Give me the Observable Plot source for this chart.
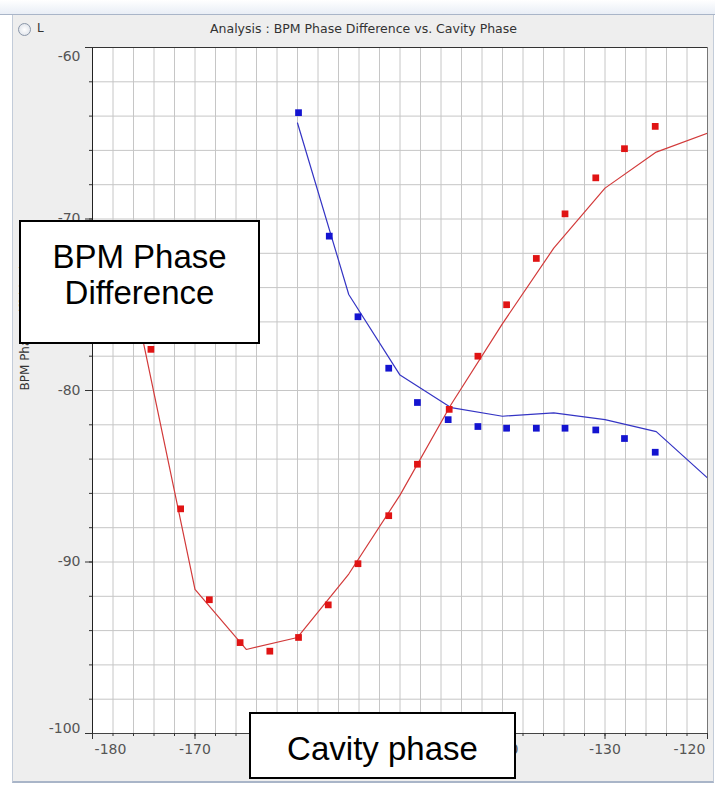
<!DOCTYPE html>
<html>
<head>
<meta charset="utf-8">
<script src="https://cdn.jsdelivr.net/npm/d3@7"></script>
<script src="https://cdn.jsdelivr.net/npm/@observablehq/plot@0.6"></script>
<style>
  html, body { margin: 0; padding: 0; }
  body { width: 715px; height: 786px; position: relative; overflow: hidden; background: #ffffff; font-family: "DejaVu Sans", sans-serif; }
  #topbar { position: absolute; left: 0; top: 0; width: 715px; height: 14px; background: linear-gradient(#ffffff, #e9eef6); border-bottom: 1px solid #a9b5c8; }
  #panel { position: absolute; left: 12px; top: 15px; width: 700px; height: 766px; background: #eeeeee; border-left: 1px solid #c3ccd9; border-right: 1px solid #c3ccd9; border-bottom: 2px solid #a9b5c8; }
  #chart { position: absolute; left: 0; top: 0; }
  #title { position: absolute; left: 0; width: 727px; top: 21px; text-align: center; font-size: 12.5px; color: #333; }
  #radio { position: absolute; left: 18px; top: 23px; width: 11px; height: 11px; border-radius: 50%; border: 1px solid #8a96a8; background: radial-gradient(#ffffff, #d8dde6); }
  #rl { position: absolute; left: 37px; top: 21px; font-size: 12px; color: #333; }
  .box { position: absolute; background: #ffffff; border: 2px solid #000; box-sizing: border-box; font-family: "Liberation Sans", Arial, sans-serif; color: #000; text-align: center; }
  #box1 { left: 19px; top: 220px; width: 241px; height: 124px; font-size: 33px; line-height: 36px; padding-top: 17px; }
  #box2 { left: 249px; top: 712px; width: 267px; height: 67px; font-size: 33px; line-height: 33px; padding-top: 18px; }
</style>
</head>
<body>
<div id="topbar"></div>
<div id="panel"></div>
<div id="chart"></div>
<div id="radio"></div>
<div id="rl">L</div>
<div id="title">Analysis : BPM Phase Difference vs. Cavity Phase</div>
<div class="box" id="box1">BPM Phase<br>Difference</div>
<div class="box" id="box2">Cavity phase</div>
<script>
// Measured data (red series)
const redX = [-174.3, -171.4, -168.6, -165.6, -162.7, -159.9, -157.0, -154.1, -151.1, -148.3, -145.2, -142.4, -139.6, -136.7, -133.9, -130.9, -128.1, -125.1];
const redY = [-77.6, -86.9, -92.2, -94.7, -95.2, -94.4, -92.5, -90.1, -87.3, -84.3, -81.1, -78.0, -75.0, -72.3, -69.7, -67.6, -65.9, -64.6];
// Measured data (blue series)
const blueX = [-159.9, -156.9, -154.1, -151.1, -148.3, -145.3, -142.4, -139.6, -136.7, -133.9, -130.9, -128.1, -125.1];
const blueY = [-63.8, -71.0, -75.7, -78.7, -80.7, -81.7, -82.1, -82.2, -82.2, -82.2, -82.3, -82.8, -83.6];
// Fitted curves
const redFitX = [-175, -170, -165, -160, -155, -150, -145, -140, -135, -130, -125, -120];
const redFitY = [-77.3, -91.6, -95.1, -94.4, -90.7, -86.1, -80.8, -76.1, -71.7, -68.2, -66.1, -65.0];
const blueFitX = [-160, -155, -150, -145, -140, -135, -130, -125, -120];
const blueFitY = [-64.4, -74.4, -79.1, -81.0, -81.5, -81.3, -81.7, -82.4, -85.1];
// Axis ticks
const xTicks = [-180, -170, -160, -150, -140, -130, -120];
const yTicks = [-60, -70, -80, -90, -100];
const xMinor = d3.range(-180, -119, 2);
const yMinor = d3.range(-100, -59, 2);
const xLabel = "Cavity Phase (deg)";
const yLabel = "BPM Phase Diff (deg)";

const red = redX.map((x, i) => ({x, y: redY[i]}));
const blue = blueX.map((x, i) => ({x, y: blueY[i]}));
const redFit = redFitX.map((x, i) => ({x, y: redFitY[i]}));
const blueFit = blueFitX.map((x, i) => ({x, y: blueFitY[i]}));

const fmt = d => String(d);
const tickFill = "#555";

const chart = Plot.plot({
  width: 715,
  height: 786,
  marginLeft: 92,
  marginRight: 8,
  marginTop: 47,
  marginBottom: 53,
  x: {domain: [-180, -120], axis: null},
  y: {domain: [-100, -60], axis: null},
  style: {background: "transparent", fontFamily: "DejaVu Sans, sans-serif", fontSize: "14px", color: "#333", overflow: "visible"},
  marks: [
    Plot.frame({fill: "white", stroke: null}),
    Plot.gridX(xMinor, {stroke: "#c6c6c6", strokeOpacity: 1}),
    Plot.gridY(yMinor, {stroke: "#c6c6c6", strokeOpacity: 1}),
    Plot.line(redFit, {x: "x", y: "y", stroke: "#d23a3a", strokeWidth: 1.2, clip: true}),
    Plot.line(blueFit, {x: "x", y: "y", stroke: "#3434c4", strokeWidth: 1.2, clip: true}),
    Plot.dot(red, {x: "x", y: "y", symbol: "square", r: 3.8, fill: "#e01414", stroke: null}),
    Plot.dot(blue, {x: "x", y: "y", symbol: "square", r: 3.8, fill: "#1414d0", stroke: null}),
    Plot.frame({stroke: "#777"}),
    Plot.ruleX([-180], {stroke: "#222"}),
    Plot.ruleY([-100], {stroke: "#444"}),
    Plot.ruleY([-60], {stroke: "#333"}),
    // ticks
    Plot.axisY(yMinor, {tickSize: 3, tickFormat: () => "", label: null, stroke: "#333"}),
    Plot.axisY(yTicks, {tickSize: 7, tickFormat: () => "", label: null, stroke: "#333"}),
    Plot.axisX(xMinor, {tickSize: 3, tickFormat: () => "", label: null, stroke: "#333"}),
    Plot.axisX(xTicks, {tickSize: 6, tickFormat: () => "", label: null, stroke: "#333"}),
    // y tick labels
    Plot.text(yTicks, {filter: d => d !== -60 && d !== -100, y: d => d, text: fmt, frameAnchor: "left", dx: -12, textAnchor: "end", fill: tickFill}),
    Plot.text(yTicks, {filter: d => d === -60, y: d => d, text: fmt, frameAnchor: "left", dx: -12, dy: 9, textAnchor: "end", fill: tickFill}),
    Plot.text(yTicks, {filter: d => d === -100, y: d => d, text: fmt, frameAnchor: "left", dx: -12, dy: -5, textAnchor: "end", fill: tickFill}),
    // x tick labels
    Plot.text(xTicks, {filter: d => d !== -180 && d !== -120, x: d => d, text: fmt, frameAnchor: "bottom", dy: 20, fill: tickFill}),
    Plot.text(xTicks, {filter: d => d === -180, x: d => d, text: fmt, frameAnchor: "bottom", dy: 20, dx: 18, fill: tickFill}),
    Plot.text(xTicks, {filter: d => d === -120, x: d => d, text: fmt, frameAnchor: "bottom", dy: 20, dx: -18, fill: tickFill}),
    // axis labels
    Plot.text([yLabel], {text: d => d, frameAnchor: "left", dx: -67, rotate: -90, fontSize: 12, fill: "#333"}),
    Plot.text([xLabel], {text: d => d, frameAnchor: "bottom", dy: 42, fontSize: 12, fill: "#333"})
  ]
});
document.getElementById("chart").appendChild(chart);
</script>
</body>
</html>
